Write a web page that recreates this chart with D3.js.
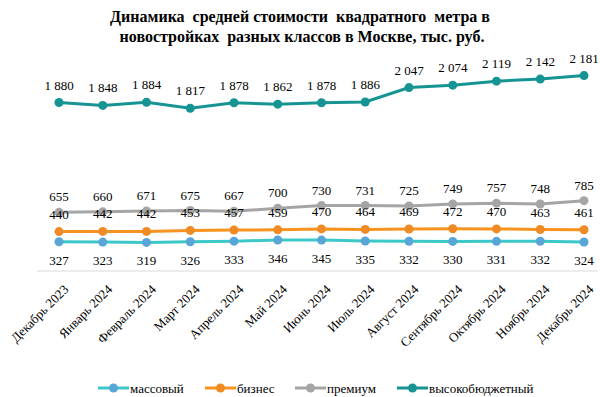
<!DOCTYPE html>
<html>
<head>
<meta charset="utf-8">
<script src="https://cdn.jsdelivr.net/npm/d3@7"></script>
<style>
body { margin: 0; background: #fff; }
text { font-family: "Liberation Serif", "Times New Roman", serif; fill: #000; }
</style>
</head>
<body>
<div id="chart"></div>
<script>
var months = ['Декабрь 2023', 'Январь 2024', 'Февраль 2024', 'Март 2024', 'Апрель 2024', 'Май 2024',
	'Июнь 2024', 'Июль 2024', 'Август 2024', 'Сентябрь 2024', 'Октябрь 2024', 'Ноябрь 2024', 'Декабрь 2024'];

var massValues = [327, 323, 319, 326, 333, 346, 345, 335, 332, 330, 331, 332, 324];
var businessValues = [440, 442, 442, 453, 457, 459, 470, 464, 469, 472, 470, 463, 461];
var premiumValues = [655, 660, 671, 675, 667, 700, 730, 731, 725, 749, 757, 748, 785];
var highValues = [1880, 1848, 1884, 1817, 1878, 1862, 1878, 1886, 2047, 2074, 2119, 2142, 2181];

var seriesNames = ['массовый', 'бизнес', 'премиум', 'высокобюджетный'];

var series = [
	{name: seriesNames[0], values: massValues, line: '#3cc8c8', dot: '#5aa5d8', labelDy: 23},
	{name: seriesNames[1], values: businessValues, line: '#f7931e', dot: '#f08a24', labelDy: -13},
	{name: seriesNames[2], values: premiumValues, line: '#a5a5a5', dot: '#a5a5a5', labelDy: -11},
	{name: seriesNames[3], values: highValues, line: '#169494', dot: '#169494', labelDy: -13}
];

var width = 600;
var height = 397;

var svg = d3.select('#chart').append('svg')
	.attr('width', width)
	.attr('height', height);

// title (double spaces kept as in the original)
var title = svg.append('text')
	.attr('text-anchor', 'middle')
	.style('font-weight', 'bold')
	.style('font-size', '16px')
	.style('white-space', 'pre');
title.append('tspan').attr('x', 300).attr('y', 22).text('Динамика  средней стоимости  квадратного  метра в');
title.append('tspan').attr('x', 302).attr('y', 42).text('новостройках  разных классов в Москве, тыс. руб.');

var x = d3.scalePoint().domain(months).range([59, 584]);
var y = d3.scaleLinear().domain([0, 2500]).range([271, 47]);

// baseline
svg.append('line')
	.attr('x1', 37).attr('x2', 598)
	.attr('y1', y(0)).attr('y2', y(0))
	.style('stroke', '#d9d9d9')
	.style('stroke-width', 1);

// category labels
svg.append('g').selectAll('text')
	.data(months)
	.enter()
	.append('text')
	.attr('transform', function(d) { return 'translate(' + (x(d) + 7) + ',' + (y(0) + 16) + ') rotate(-45)'; })
	.attr('text-anchor', 'end')
	.attr('dy', '.35em')
	.style('font-size', '13px')
	.text(function(d) { return d; });

var line = d3.line()
	.x(function(d, i) { return x(months[i]); })
	.y(function(d) { return y(d); });

function fmt(v) {
	return d3.format(',')(v).replace(/,/g, ' ');
}

series.forEach(function(s) {
	var g = svg.append('g');
	g.append('path')
		.datum(s.values)
		.attr('d', line)
		.style('fill', 'none')
		.style('stroke', s.line)
		.style('stroke-width', 3);
	g.selectAll('circle')
		.data(s.values)
		.enter()
		.append('circle')
		.attr('cx', function(d, i) { return x(months[i]); })
		.attr('cy', function(d) { return y(d); })
		.attr('r', 4.5)
		.style('fill', s.dot);
});

series.forEach(function(s) {
	svg.append('g').selectAll('text')
		.data(s.values)
		.enter()
		.append('text')
		.attr('x', function(d, i) { return x(months[i]); })
		.attr('y', function(d) { return y(d) + s.labelDy; })
		.attr('text-anchor', 'middle')
		.style('font-size', '13px')
		.text(function(d) { return fmt(d); });
});

// legend
var legendX = [98, 205, 295, 397];
var legend = svg.selectAll('.legend')
	.data(series)
	.enter()
	.append('g')
	.attr('class', 'legend')
	.attr('transform', function(d, i) { return 'translate(' + legendX[i] + ',388)'; });

legend.append('line')
	.attr('x1', 0).attr('x2', 31)
	.attr('y1', 0).attr('y2', 0)
	.style('stroke', function(d) { return d.line; })
	.style('stroke-width', 3);
legend.append('circle')
	.attr('cx', 15.5).attr('cy', 0).attr('r', 4.5)
	.style('fill', function(d) { return d.dot; });
legend.append('text')
	.attr('x', 32)
	.attr('y', 0)
	.attr('dy', '.35em')
	.style('font-size', '13px')
	.text(function(d) { return d.name; });
</script>
</body>
</html>
